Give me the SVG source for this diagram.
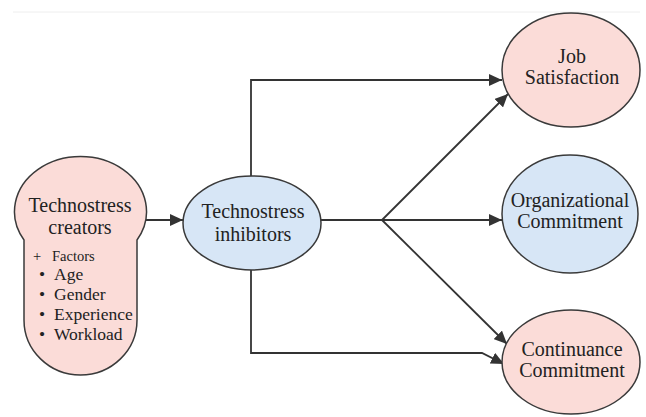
<svg xmlns="http://www.w3.org/2000/svg" width="646" height="417" viewBox="0 0 646 417">
<style>
.pink{fill:#fbdcd8;stroke:#3a3a3a;stroke-width:1.5}
.blue{fill:#d7e6f6;stroke:#3a3a3a;stroke-width:1.5}
text{font-family:'Liberation Serif','Times New Roman',Tinos,'Nimbus Roman','Nimbus Roman No9 L',FreeSerif,'Noto Serif','DejaVu Serif',Georgia,serif;fill:#222}
.t{text-anchor:middle;font-size:20px}
.s{font-size:17.5px}
.f{font-size:14.5px}
.c{fill:none;stroke:#333;stroke-width:1.8}
</style>
<defs>
<marker id="ah" markerUnits="userSpaceOnUse" markerWidth="14" markerHeight="12" refX="13" refY="6" orient="auto">
<path d="M0,0 L13,6 L0,12 Z" fill="#333"/>
</marker>
</defs>
<rect width="646" height="417" fill="#fff"/>
<line x1="13" y1="12" x2="640" y2="12" stroke="#eeeeee" stroke-width="1"/>
<g id="connectors">
<path class="c" d="M146 220 L183 220" marker-end="url(#ah)"/>
<path class="c" d="M251 176 L251 80 L502 80" marker-end="url(#ah)"/>
<path class="c" d="M321 220 L502 220" marker-end="url(#ah)"/>
<path class="c" d="M382 220 L508 94" marker-end="url(#ah)"/>
<path class="c" d="M382 220 L507 344" marker-end="url(#ah)"/>
<path class="c" d="M251 270 L251 353 L482 353 L504 364" marker-end="url(#ah)"/>
</g>
<g id="creators">
<path class="pink" d="M24 240 A66 55 0 1 1 137 240 L137 320 A56.5 55 0 0 1 24 320 Z"/>
<text class="t" x="80" y="212">Technostress</text>
<text class="t" x="80" y="234">creators</text>
<text class="f" x="33" y="261">+</text>
<text class="f" x="52" y="261">Factors</text>
<text class="s" x="39" y="280">•</text><text class="s" x="54" y="280">Age</text>
<text class="s" x="39" y="300">•</text><text class="s" x="54" y="300">Gender</text>
<text class="s" x="39" y="320">•</text><text class="s" x="54" y="320">Experience</text>
<text class="s" x="39" y="340">•</text><text class="s" x="54" y="340">Workload</text>
</g>
<g id="inhibitors">
<ellipse class="blue" cx="252" cy="223" rx="69" ry="47"/>
<text class="t" x="253" y="218">Technostress</text>
<text class="t" x="253" y="241">inhibitors</text>
</g>
<g id="job">
<ellipse class="pink" cx="571" cy="70" rx="69" ry="57"/>
<text class="t" x="572" y="63">Job</text>
<text class="t" x="572" y="84">Satisfaction</text>
</g>
<g id="org">
<ellipse class="blue" cx="570" cy="214" rx="68" ry="59"/>
<text class="t" x="570" y="207">Organizational</text>
<text class="t" x="570" y="228">Commitment</text>
</g>
<g id="cont">
<ellipse class="pink" cx="571" cy="362" rx="69" ry="52"/>
<text class="t" x="572" y="356">Continuance</text>
<text class="t" x="572" y="377">Commitment</text>
</g>
</svg>
